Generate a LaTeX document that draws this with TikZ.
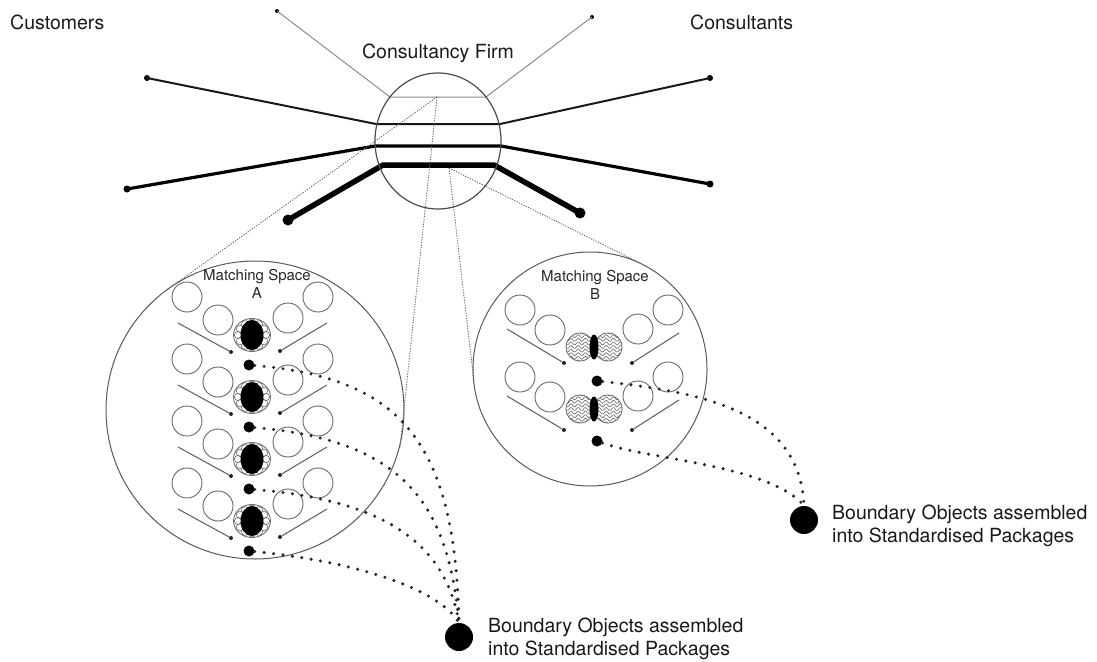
\documentclass[tikz,border=0pt]{standalone}
\usepackage{fontspec}
\setmainfont{TeX Gyre Heros}
\usetikzlibrary{shapes.geometric}
\begin{document}
\begin{tikzpicture}[x=1pt,y=-1pt,
  lbl/.style={font=\fontsize{19.5}{23}\selectfont, text=black!90, inner sep=0pt},
  mslbl/.style={font=\fontsize{15}{18}\selectfont, align=center, inner sep=0pt, text=black!85},
  enddot/.style={circle, fill=black, inner sep=0pt, minimum size=#1},
  open/.style={circle, draw=black!60, line width=0.9pt, minimum size=30pt, inner sep=0pt},
  space/.style={circle, draw=black!65, line width=1pt, inner sep=0pt},
  feed/.style={draw=black!60, line width=1.1pt},
  tip/.style={circle, fill=black!85, inner sep=0pt, minimum size=4pt},
  rowdot/.style={circle, fill=black, inner sep=0pt, minimum size=11pt},
  bigdot/.style={circle, fill=black, inner sep=0pt, minimum size=28pt},
  dotpath/.style={draw=black!85, line width=3.4pt, line cap=round, dash pattern=on 0pt off 9.5pt},
  zoomline/.style={draw=black!60, line width=0.9pt, dash pattern=on 1.2pt off 1.4pt},
]
\useasboundingbox (0,0) rectangle (1097,661);

% ---------- labels ----------
\node[lbl, anchor=west] (cust) at (10,22) {Customers};
\node[lbl, anchor=west] (cons) at (690,22) {Consultants};
\node[lbl] (firmlbl) at (438,53) {Consultancy Firm};

% ---------- the firm and its links ----------
\coordinate (c1l) at (390,97);  \coordinate (c1r) at (486,97);
\coordinate (c2l) at (376,124); \coordinate (c2r) at (500,124);
\coordinate (c3l) at (375,146); \coordinate (c3r) at (501,146);
\coordinate (c4l) at (383,165); \coordinate (c4r) at (494,165);

\node[enddot=4pt]  (t1l) at (277,11) {};
\node[enddot=4pt]  (t1r) at (592,17) {};
\node[enddot=6pt]  (t2l) at (147,78) {};
\node[enddot=6pt]  (t2r) at (710,78) {};
\node[enddot=7pt]  (t3l) at (127,189) {};
\node[enddot=7pt]  (t3r) at (710,184) {};
\node[enddot=11pt] (t4l) at (288,220) {};
\node[enddot=11pt] (t4r) at (580,213) {};

\draw[black!45, line width=1pt] (t1l.center) -- (c1l) -- (c1r) -- (t1r.center);
\draw[black!90, line width=2pt] (t2l.center) -- (c2l) -- (c2r) -- (t2r.center);
\draw[black, line width=3.2pt, line join=round] (t3l.center) -- (c3l) -- (c3r) -- (t3r.center);
\draw[black, line width=5.5pt, line join=round] (t4l.center) -- (c4l) -- (c4r) -- (t4r.center);

\node[ellipse, draw=black!70, line width=1.2pt, minimum width=126pt, minimum height=136pt, inner sep=0pt] (firm) at (438,141) {};

% ---------- matching spaces ----------
\node[space, minimum size=298pt] (spaceA) at (255,410) {};
\node[space, minimum size=234pt] (spaceB) at (590,369) {};
\node[mslbl] (msA) at (257,284) {Matching Space\\A};
\node[mslbl] (msB) at (595,285) {Matching Space\\B};

% zoom lines from the firm
\coordinate (z1) at (437,97);
\coordinate (z2) at (449,168);
\coordinate (zA1) at (168,289);
\coordinate (zA2) at (400,447);
\coordinate (zB1) at (642,264);
\coordinate (zB2) at (474,382);
\draw[zoomline] (z1) -- (zA1);
\draw[zoomline] (z1) -- (zA2);
\draw[zoomline] (z2) -- (zB1);
\draw[zoomline] (z2) -- (zB2);

% ---------- space A : four matching rows ----------
\foreach \k in {0,...,3}{
  \pgfmathsetmacro\dy{62*\k}
  \node[open] (aLO\k) at (187,{297+\dy}) {};
  \node[open] (aLI\k) at (218,{320+\dy}) {};
  \node[open] (aRI\k) at (288,{318+\dy}) {};
  \node[open] (aRO\k) at (318,{297+\dy}) {};
  \coordinate (aFl\k) at (178,{323+\dy});
  \coordinate (aFr\k) at (327,{323+\dy});
  \node[tip] (aTl\k) at (231,{352+\dy}) {};
  \node[tip] (aTr\k) at (280,{351+\dy}) {};
  \draw[feed] (aFl\k) -- (aTl\k);
  \draw[feed] (aFr\k) -- (aTr\k);
  \node[ellipse, draw=black!60, line width=0.8pt, minimum width=37pt, minimum height=33pt, inner sep=0pt] (aC\k) at (252,{335+\dy}) {};
  \begin{scope}[shift={(252,{335+\dy})}]
    \foreach \a in {0,30,...,330}
      \draw[black!60, line width=0.6pt] ({14*cos(\a)},{12.5*sin(\a)}) circle (3.6);
    \fill[black] (0,0) ellipse [x radius=11.5, y radius=15];
  \end{scope}
  \node[rowdot] (aD\k) at (249,{365+\dy}) {};
}

% ---------- space B : two matching rows ----------
\foreach \k/\oc/\yh/\yd in {0/0/347/381, 1/67/409/441}{
  \node[open] (bLO\k) at (520,{310+\oc}) {};
  \node[open] (bLI\k) at (550,{330+\oc}) {};
  \node[open] (bRI\k) at (638,{329+\oc}) {};
  \node[open] (bRO\k) at (668,{310+\oc}) {};
  \coordinate (bFl\k) at (507,{329+\oc});
  \coordinate (bFr\k) at (679,{333+\oc});
  \node[tip] (bTl\k) at (564,{363+\oc}) {};
  \node[tip] (bTr\k) at (632,{363+\oc}) {};
  \draw[feed] (bFl\k) -- (bTl\k);
  \draw[feed] (bFr\k) -- (bTr\k);
  \foreach \cx in {580,608}{
    \begin{scope}
      \clip (\cx,\yh) circle (14);
      \foreach \j in {-4,...,4}
        \draw[black!60, line width=0.6pt]
          plot[domain=-15:15, samples=31, smooth] ({\cx+\x},{\yh+\j*3.6+1.5*sin(\x*50)});
    \end{scope}
  }
  \node[circle, draw=black!60, line width=0.8pt, minimum size=28pt, inner sep=0pt] (bHl\k) at (580,\yh) {};
  \node[circle, draw=black!60, line width=0.8pt, minimum size=28pt, inner sep=0pt] (bHr\k) at (608,\yh) {};
  \fill[black] (594,\yh) ellipse [x radius=4.5, y radius=12.5];
  \node[rowdot] (bD\k) at (597,\yd) {};
}

% ---------- standardised packages ----------
\node[bigdot] (bigA) at (459,637) {};
\node[bigdot] (bigB) at (804,520) {};
\node[lbl, anchor=west, align=left] (pkgA) at (488,639) {Boundary Objects assembled\\into Standardised Packages};
\node[lbl, anchor=west, align=left] (pkgB) at (832,526) {Boundary Objects assembled\\into Standardised Packages};

\draw[dotpath] (aD0) .. controls (400,378) and (455,440) .. (bigA.north);
\draw[dotpath] (aD1) .. controls (400,440) and (448,500) .. (bigA.north);
\draw[dotpath] (aD2) .. controls (380,500) and (445,540) .. (bigA.north);
\draw[dotpath] (aD3) .. controls (360,562) and (440,590) .. (bigA.north);
\draw[dotpath] (bD0) .. controls (700,392) and (800,410) .. (bigB.north);
\draw[dotpath] (bD1) .. controls (650,460) and (770,465) .. (bigB.north);
\end{tikzpicture}
\end{document}
